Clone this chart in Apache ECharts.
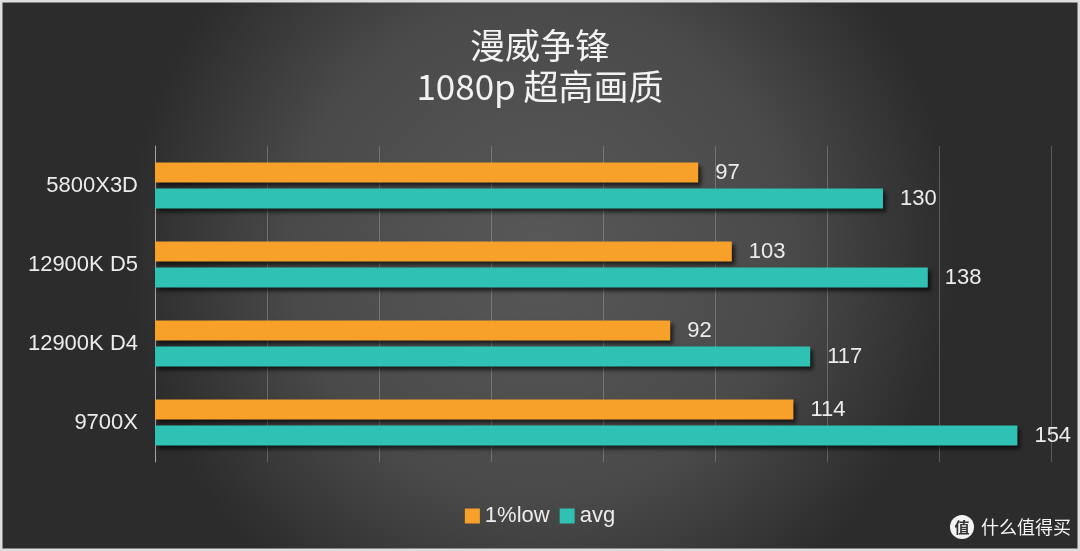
<!DOCTYPE html>
<html><head><meta charset="utf-8">
<script src="https://cdn.jsdelivr.net/npm/echarts@6/dist/echarts.min.js"></script>
<style>html,body{margin:0;padding:0;background:#e6e6e6}#c{width:1080px;height:551px}</style>
</head><body><div id="c"></div>
<script>
const titleLines = ['漫威争锋', '1080p 超高画质'];
const categories = ['5800X3D', '12900K D5', '12900K D4', '9700X'];
const seriesNames = ['1%low', 'avg'];
const lowValues = [97, 103, 92, 114];
const avgValues = [130, 138, 117, 154];
const colors = ['#F8A12A', '#2FC2B4'];

const FONT = 'Liberation Sans, Arial, sans-serif';
const chart = echarts.init(document.getElementById('c'), null, {renderer: 'canvas'});
const labelStyle = {show: true, position: 'right', distance: 17, color: '#ececec', fontSize: 22, fontFamily: FONT};
const shadow = {shadowColor: 'rgba(0,0,0,0.65)', shadowBlur: 4, shadowOffsetX: 3, shadowOffsetY: 3};
chart.setOption({
  backgroundColor: {type: 'radial', x: 0.5, y: 0.45, r: 0.75, colorStops: [{offset: 0, color: '#585858'}, {offset: 0.6, color: '#4a4a4a'}, {offset: 1, color: '#2c2c2c'}]},
  title: {text: titleLines.join('\n'), left: 'center', top: 20, textStyle: {color: '#f2f2f2', fontSize: 35, fontWeight: 'normal', lineHeight: 41, fontFamily: 'Noto Sans CJK SC, sans-serif'}},
  legend: {data: seriesNames, top: 500, left: 'center', icon: 'rect', itemWidth: 15, itemHeight: 15, itemGap: 10, textStyle: {color: '#ececec', fontSize: 22, fontFamily: FONT}},
  grid: {left: 155, right: 29, top: 146, height: 316, containLabel: false},
  xAxis: {type: 'value', min: 0, max: 160, interval: 20, axisLabel: {show: false}, axisLine: {show: false}, axisTick: {show: false},
    splitLine: {show: true, lineStyle: {color: 'rgba(255,255,255,0.22)', width: 1}}},
  yAxis: {type: 'category', data: categories, inverse: true, axisTick: {show: false},
    axisLine: {show: true, lineStyle: {color: 'rgba(255,255,255,0.45)', width: 1}},
    axisLabel: {color: '#ececec', fontSize: 22, margin: 17, fontFamily: FONT}},
  series: [
    {name: seriesNames[0], type: 'bar', data: lowValues, barWidth: 20, barGap: '30%', itemStyle: Object.assign({color: colors[0]}, shadow), label: labelStyle},
    {name: seriesNames[1], type: 'bar', data: avgValues, barWidth: 20, barGap: '30%', itemStyle: Object.assign({color: colors[1]}, shadow), label: labelStyle}
  ],
  graphic: [
    {type: 'circle', shape: {cx: 962, cy: 527, r: 12}, style: {fill: '#f4f4f4'}, z: 10},
    {type: 'text', x: 962, y: 527, style: {text: '值', fill: '#333', fontSize: 15, fontWeight: 'bold', align: 'center', verticalAlign: 'middle', fontFamily: 'Noto Sans CJK SC'}, z: 11},
    {type: 'text', x: 981, y: 527, style: {text: '什么值得买', fill: '#f4f4f4', fontSize: 18, verticalAlign: 'middle', fontFamily: 'Noto Sans CJK SC'}, z: 11},
    {type: 'rect', shape: {x: 1, y: 1, width: 1078, height: 549}, style: {fill: 'none', stroke: '#dedede', lineWidth: 3}, z: 20}
  ]
});
</script></body></html>
